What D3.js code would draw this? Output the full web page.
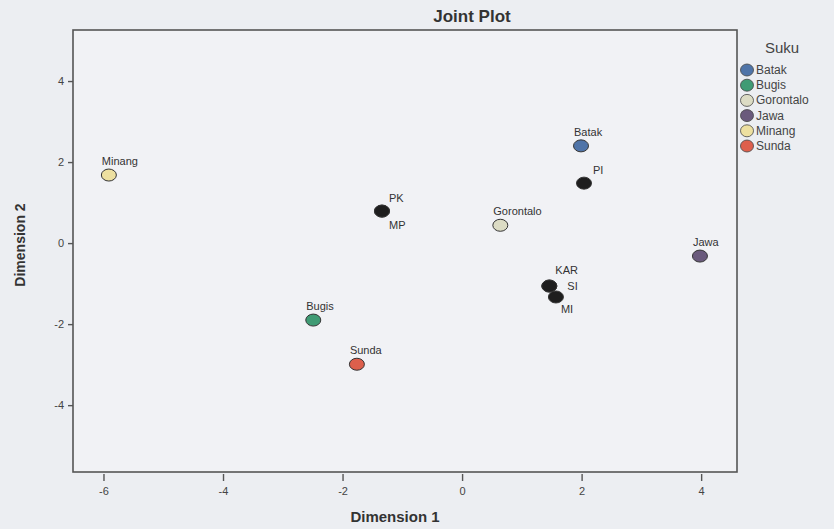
<!DOCTYPE html>
<html>
<head>
<meta charset="utf-8">
<script src="https://cdn.jsdelivr.net/npm/d3@7"></script>
<style>
  body { margin: 0; background: #eceef2; }
  svg { display: block; font-family: "Liberation Sans", Arial, sans-serif; }
</style>
</head>
<body>
<div id="chart"><svg width="834" height="529"></svg></div>
<script>
// points (object points are the Suku groups, the rest are black)
const names = ['Batak', 'PI', 'Minang', 'PK', 'MP', 'Gorontalo', 'Jawa', 'KAR', 'SI', 'MI', 'Bugis', 'Sunda']
const dim1 = [1.99, 2.04, -5.91, -1.34, -1.34, 0.64, 3.98, 1.46, 1.46, 1.57, -2.49, -1.76]
const dim2 = [2.40, 1.48, 1.68, 0.79, 0.79, 0.44, -0.32, -1.06, -1.06, -1.33, -1.90, -2.99]

const suku = ['Batak', 'Bugis', 'Gorontalo', 'Jawa', 'Minang', 'Sunda']
const sukuColors = ['#4f74a8', '#3f9b74', '#dcdcc4', '#6a5a7c', '#ede0a0', '#dd5f4c']

const xTicks = [-6, -4, -2, 0, 2, 4]
const yTicks = [-4, -2, 0, 2, 4]

const svg = d3.select('#chart svg')

const pLeft = 73, pRight = 737, pTop = 30, pBottom = 472

const xScale = d3.scaleLinear().domain([-6.51, 4.6]).range([pLeft, pRight])
const yScale = d3.scaleLinear().domain([-5.65, 5.26]).range([pBottom, pTop])

const colorScale = d3.scaleOrdinal().domain(suku).range(sukuColors)

// label placement: dx, dy
const labelPlace = {
    PI: [9, -9], PK: [7, -9], MP: [7, 18], KAR: [6, -12], SI: [18, 4], MI: [5, 16]
}

// plot frame
svg.append('rect')
    .attr('x', pLeft).attr('y', pTop)
    .attr('width', pRight - pLeft).attr('height', pBottom - pTop)
    .attr('fill', '#f1f2f5')
    .attr('stroke', '#555')
    .attr('stroke-width', 1.6)

svg.append('text')
    .text('Joint Plot')
    .attr('x', 472).attr('y', 22)
    .attr('text-anchor', 'middle')
    .style('font-size', 17)
    .style('font-weight', 'bold')
    .style('fill', '#333')

// x axis, ticks hang below the frame
svg.append('g')
    .attr('transform', `translate(0,${pBottom + 2})`)
    .call(d3.axisBottom(xScale).tickValues(xTicks).tickFormat(d => String(d)).tickSize(7).tickPadding(6))
    .call(g => g.select('.domain').remove())
    .call(g => g.selectAll('line').attr('stroke', '#555').attr('stroke-width', 1.4))
    .call(g => g.selectAll('text').style('font-size', 11).attr('fill', '#444').attr('font-family', 'Liberation Sans, Arial'))

svg.append('g')
    .attr('transform', `translate(${pLeft},0)`)
    .call(d3.axisLeft(yScale).tickValues(yTicks).tickFormat(d => String(d)).tickSize(5).tickPadding(4))
    .call(g => g.select('.domain').remove())
    .call(g => g.selectAll('line').attr('stroke', '#555').attr('stroke-width', 1.4))
    .call(g => g.selectAll('text').style('font-size', 11).attr('fill', '#444').attr('font-family', 'Liberation Sans, Arial'))

svg.append('text')
    .text('Dimension 1')
    .attr('x', 395).attr('y', 522)
    .attr('text-anchor', 'middle')
    .style('font-size', 15)
    .style('font-weight', 'bold')
    .style('fill', '#333')

svg.append('text')
    .text('Dimension 2')
    .attr('transform', 'translate(25,245) rotate(-90)')
    .attr('text-anchor', 'middle')
    .style('font-size', 14)
    .style('font-weight', 'bold')
    .style('fill', '#333')

const pts = names.map((n, i) => ({ name: n, x: dim1[i], y: dim2[i] }))

svg.append('g')
    .selectAll('ellipse')
    .data(pts)
    .join('ellipse')
    .attr('cx', d => xScale(d.x))
    .attr('cy', d => yScale(d.y))
    .attr('rx', 7.5)
    .attr('ry', 6)
    .attr('fill', d => suku.includes(d.name) ? colorScale(d.name) : '#1e1e1e')
    .attr('stroke', '#333')
    .attr('stroke-width', 1)

svg.append('g')
    .selectAll('text')
    .data(pts)
    .join('text')
    .text(d => d.name)
    .attr('x', d => xScale(d.x) + (labelPlace[d.name] ? labelPlace[d.name][0] : -7))
    .attr('y', d => yScale(d.y) + (labelPlace[d.name] ? labelPlace[d.name][1] : -10))
    .style('font-size', 11)
    .style('fill', '#333')

// legend
const legend = svg.append('g')

legend.append('text')
    .text('Suku')
    .attr('x', 765).attr('y', 53)
    .style('font-size', 15)
    .style('fill', '#444')

legend.selectAll('ellipse')
    .data(suku)
    .join('ellipse')
    .attr('cx', 747)
    .attr('cy', (d, i) => 70 + i * 15.2)
    .attr('rx', 6.5).attr('ry', 6)
    .attr('fill', d => colorScale(d))
    .attr('stroke', '#444')
    .attr('stroke-width', 0.8)

legend.selectAll('text.item')
    .data(suku)
    .join('text')
    .attr('class', 'item')
    .text(d => d)
    .attr('x', 756)
    .attr('y', (d, i) => 74 + i * 15.2)
    .style('font-size', 12)
    .style('fill', '#444')
</script>
</body>
</html>
